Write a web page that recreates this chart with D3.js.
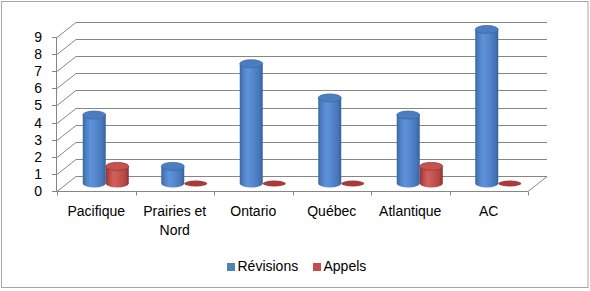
<!DOCTYPE html>
<html>
<head>
<meta charset="utf-8">
<script src="https://cdn.jsdelivr.net/npm/d3@7"></script>
<style>
  body { margin: 0; background: #fff; }
  text { font-family: "Liberation Sans", Arial, sans-serif; font-size: 14px; fill: #000; }
</style>
</head>
<body>
<svg id="chart" width="590" height="291"></svg>
<script>
// data
var categories = ["Pacifique", "Prairies et Nord", "Ontario", "Québec", "Atlantique", "AC"];
var revisions = [4, 1, 7, 5, 4, 9];
var appels = [1, 0, 0, 0, 1, 0];
var yTicks = [0, 1, 2, 3, 4, 5, 6, 7, 8, 9];
var seriesNames = ["Révisions", "Appels"];

var svg = d3.select("#chart");

// outer frame
svg.append("rect").attr("x", 1.5).attr("y", 1.5).attr("width", 586.5).attr("height", 286)
  .attr("fill", "#fff").attr("stroke", "#a6a6a6");

var x = d3.scaleBand().domain(categories).range([57, 528]);
var y = d3.scaleLinear().domain([0, 9]).range([191, 37]);
var dx = 19, dy = -15; // depth of the 3d box

var grid = svg.append("g").attr("stroke", "#868686").attr("stroke-width", 1).attr("fill", "none");

// back wall lines + side wall diagonals
yTicks.forEach(function (v) {
  var yy = Math.round(y(v)) + 0.5;
  grid.append("line").attr("x1", 57 + dx).attr("x2", 528 + dx).attr("y1", yy + dy).attr("y2", yy + dy);
  grid.append("line").attr("x1", 57).attr("x2", 57 + dx).attr("y1", yy).attr("y2", yy + dy);
  grid.append("line").attr("x1", 52).attr("x2", 57).attr("y1", yy).attr("y2", yy);
});
// floor front edge and right edge
var y0 = Math.round(y(0)) + 0.5;
grid.append("line").attr("x1", 57).attr("x2", 528).attr("y1", y0).attr("y2", y0);
grid.append("line").attr("x1", 528).attr("x2", 528 + dx).attr("y1", y0).attr("y2", y0 + dy);
// y axis
grid.append("line").attr("x1", 56.5).attr("x2", 56.5).attr("y1", y(9)).attr("y2", y0);
// x ticks
categories.concat([null]).forEach(function (c, i) {
  var xx = Math.round(c ? x(c) : 528) + 0.5;
  grid.append("line").attr("x1", xx).attr("x2", xx).attr("y1", y0).attr("y2", y0 + 4);
});

// y tick labels
svg.append("g").selectAll("text").data(yTicks).enter().append("text")
  .attr("x", 42).attr("y", function (d) { return y(d) + 5; })
  .attr("text-anchor", "end").text(function (d) { return d; });

// category labels
var catLabels = { "Prairies et Nord": ["Prairies et", "Nord"] };
categories.forEach(function (c) {
  var lines = catLabels[c] || [c];
  var t = svg.append("text").attr("text-anchor", "middle")
    .attr("x", x(c) + x.bandwidth() / 2).attr("y", 216);
  lines.forEach(function (l, i) {
    t.append("tspan").attr("x", x(c) + x.bandwidth() / 2).attr("dy", i ? 19 : 0).text(l);
  });
});

// gradients
var defs = svg.append("defs");
function grad(id, stops) {
  var g = defs.append("linearGradient").attr("id", id).attr("x1", "0").attr("x2", "1").attr("y1", "0").attr("y2", "0");
  stops.forEach(function (s) { g.append("stop").attr("offset", s[0]).attr("stop-color", s[1]); });
}
grad("gBlue", [["0%", "#3a679f"], ["15%", "#4f80c4"], ["35%", "#5f93d9"], ["60%", "#5486cc"], ["85%", "#4676b8"], ["100%", "#36629a"]]);
grad("gRed", [["0%", "#8f3331"], ["15%", "#b84a47"], ["35%", "#d2625f"], ["60%", "#c5534f"], ["85%", "#b24643"], ["100%", "#8a302d"]]);

var styles = [
  { fill: "url(#gBlue)", top: "#4b7dc0", edge: "#3a6aa5", flat: "#3d6db0" },
  { fill: "url(#gRed)", top: "#c4524f", edge: "#973936", flat: "#a93b38" }
];

var rx = 11.5, ry = 4;
var bars = svg.append("g");
categories.forEach(function (c, i) {
  [revisions[i], appels[i]].forEach(function (v, s) {
    var st = styles[s];
    var cx = x(c) + x.bandwidth() / 2 + (s ? 11.5 : -11.5) + dx / 2;
    var yb = y(0) + dy / 2;
    if (v === 0) {
      bars.append("ellipse").attr("cx", cx).attr("cy", yb).attr("rx", rx).attr("ry", 3)
        .attr("fill", st.flat);
      return;
    }
    var yt = y(v) + dy / 2;
    bars.append("path")
      .attr("d", "M" + (cx - rx) + "," + yt + "L" + (cx - rx) + "," + yb +
        "A" + rx + " " + ry + " 0 0 0 " + (cx + rx) + "," + yb +
        "L" + (cx + rx) + "," + yt + "Z")
      .attr("fill", st.fill);
    bars.append("ellipse").attr("cx", cx).attr("cy", yt).attr("rx", rx).attr("ry", ry)
      .attr("fill", st.top).attr("stroke", st.edge).attr("stroke-width", 0.8);
  });
});

// legend
var legX = [227, 313];
seriesNames.forEach(function (n, i) {
  svg.append("rect").attr("x", legX[i]).attr("y", 263).attr("width", 8).attr("height", 8)
    .attr("fill", i ? "#c0504d" : "#4f81bd");
  svg.append("text").attr("x", legX[i] + 10.5).attr("y", 271).text(n);
});
</script>
</body>
</html>
